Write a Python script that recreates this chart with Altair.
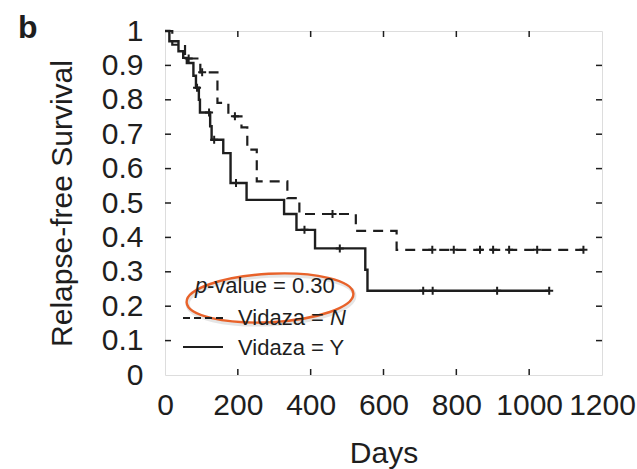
import altair as alt
import pandas as pd

# ---------------- data ----------------
# Vidaza = N (dashed curve): event times (days) and survival after each step
n_times = [0, 20, 55, 97, 144, 174, 210, 226, 252, 336, 369, 524, 636, 1149]
n_surv = [1.0, 0.96, 0.92, 0.88, 0.791, 0.752, 0.72, 0.655, 0.563, 0.514, 0.468, 0.419, 0.364, 0.364]
n_censor = [65, 102, 192, 460, 734, 793, 865, 901, 945, 1022, 1149]

# Vidaza = Y (solid curve)
y_times = [0, 12, 37, 50, 60, 78, 85, 93, 96, 124, 128, 160, 180, 224, 327, 361, 412, 550, 556, 1055]
y_surv = [1.0, 0.970, 0.941, 0.922, 0.907, 0.87, 0.835, 0.80, 0.763, 0.723, 0.684, 0.645, 0.558,
          0.509, 0.468, 0.422, 0.368, 0.306, 0.245, 0.245]
y_censor = [88, 121, 135, 195, 383, 480, 709, 735, 912, 1055]

x_ticks = [0, 200, 400, 600, 800, 1000, 1200]
y_ticks = [0, 0.1, 0.2, 0.3, 0.4, 0.5, 0.6, 0.7, 0.8, 0.9, 1]

p_text = "-value = 0.30"
legend_n = "Vidaza = "
legend_y = "Vidaza = Y"
x_title = "Days"
y_title = "Relapse-free Survival"
panel_letter = "b"

# ---------------- helpers ----------------
def surv_at(times, surv, t):
    s = surv[0]
    for ti, si in zip(times, surv):
        if ti <= t:
            s = si
    return s

curve_n = pd.DataFrame({"t": n_times, "s": n_surv})
curve_y = pd.DataFrame({"t": y_times, "s": y_surv})
cens_n = pd.DataFrame({"t": n_censor, "s": [surv_at(n_times, n_surv, c) for c in n_censor]})
cens_y = pd.DataFrame({"t": y_censor, "s": [surv_at(y_times, y_surv, c) for c in y_censor]})
xt = pd.DataFrame({"v": x_ticks[1:-1]})
yt = pd.DataFrame({"v": y_ticks[1:-1]})

W, H = 437, 344
INK = "#1e1e1e"
FONT = "Liberation Sans"

xscale = alt.Scale(domain=[0, 1200], nice=False, zero=False)
yscale = alt.Scale(domain=[0, 1], nice=False, zero=False)
xaxis = alt.Axis(values=x_ticks, format="d", tickSize=0, domain=False, grid=False, labelFontSize=30,
                 labelPadding=15, titleFontSize=30, titlePadding=18, labelFont=FONT,
                 titleFont=FONT, titleFontWeight="normal", labelColor=INK, titleColor=INK,
                 labelFlush=False, labelOverlap=False, labelBound=False)
yaxis = alt.Axis(values=y_ticks, format="~g", tickSize=0, domain=False, grid=False,
                 labelFontSize=30, labelPadding=22, titleFontSize=30, titlePadding=24,
                 labelFont=FONT, titleFont=FONT, titleFontWeight="normal", labelColor=INK,
                 titleColor=INK, labelFlush=False, labelOverlap=False, labelBound=False)


def X(field):
    return alt.X(field, type="quantitative", scale=xscale, axis=xaxis, title=x_title)


def Y(field):
    return alt.Y(field, type="quantitative", scale=yscale, axis=yaxis, title=y_title)


plus = "M-1,0L1,0M0,-1L0,1"

line_n = alt.Chart(curve_n).mark_line(interpolate="step-after", color=INK, strokeWidth=2.2,
                                      strokeDash=[10, 7]).encode(x=X("t"), y=Y("s"), order="t:Q")
line_y = alt.Chart(curve_y).mark_line(interpolate="step-after", color=INK, strokeWidth=2.4).encode(
    x=X("t"), y=Y("s"), order="t:Q")
pts_n = alt.Chart(cens_n).mark_point(shape=plus, size=64, strokeWidth=2, color=INK, filled=False,
                                     opacity=1).encode(x=X("t"), y=Y("s"))
pts_y = alt.Chart(cens_y).mark_point(shape=plus, size=64, strokeWidth=2, color=INK, filled=False,
                                     opacity=1).encode(x=X("t"), y=Y("s"))

# inward ticks on all four sides
tick_b = alt.Chart(xt).mark_rule(color=INK, strokeWidth=1.5).encode(x=X("v"), y=alt.value(H), y2=alt.value(H - 6))
tick_t = alt.Chart(xt).mark_rule(color=INK, strokeWidth=1.5).encode(x=X("v"), y=alt.value(0), y2=alt.value(6))
tick_l = alt.Chart(yt).mark_rule(color=INK, strokeWidth=1.5).encode(y=Y("v"), x=alt.value(0), x2=alt.value(6))
tick_r = alt.Chart(yt).mark_rule(color=INK, strokeWidth=1.5).encode(y=Y("v"), x=alt.value(W), x2=alt.value(W - 6))

# legend drawn inside the plot
leg_dash = alt.Chart().mark_rule(color=INK, strokeWidth=2, strokeDash=[7, 4]).encode(
    x=alt.value(18), x2=alt.value(58), y=alt.value(287))
leg_solid = alt.Chart().mark_rule(color=INK, strokeWidth=2.2).encode(
    x=alt.value(18), x2=alt.value(58), y=alt.value(316))
txt_style = dict(font=FONT, fontSize=22, color=INK, align="left", baseline="alphabetic")
t_p = alt.Chart().mark_text(text="p", fontStyle="italic", **txt_style).encode(x=alt.value(30), y=alt.value(262))
t_pv = alt.Chart().mark_text(text=p_text, **txt_style).encode(x=alt.value(42), y=alt.value(262))
t_n = alt.Chart().mark_text(text=legend_n, **txt_style).encode(x=alt.value(73), y=alt.value(294))
t_nn = alt.Chart().mark_text(text="N", fontStyle="italic", **txt_style).encode(x=alt.value(165), y=alt.value(294))
t_y = alt.Chart().mark_text(text=legend_y, **txt_style).encode(x=alt.value(73), y=alt.value(324))

ellipse = ("M-1,0C-1,-0.160 -0.552,-0.29 0,-0.29C0.552,-0.29 1,-0.160 1,0"
           "C1,0.160 0.552,0.29 0,0.29C-0.552,0.29 -1,0.160 -1,0Z")
shadow = alt.Chart().mark_point(shape=ellipse, size=27889, filled=False, stroke="#999999",
                                strokeWidth=4, opacity=0.25, angle=357).encode(
    x=alt.value(106), y=alt.value(269))
oval = alt.Chart().mark_point(shape=ellipse, size=27889, filled=False, stroke="#e8622a",
                              strokeWidth=2.4, opacity=1, angle=357).encode(
    x=alt.value(105), y=alt.value(267))

letter = alt.Chart().mark_text(text=panel_letter, font=FONT, fontSize=32, fontWeight="bold",
                               color=INK, align="left", baseline="alphabetic").encode(
    x=alt.value(-147), y=alt.value(7))

chart = alt.layer(
    tick_b, tick_t, tick_l, tick_r,
    line_n, line_y, pts_n, pts_y,
    shadow, oval, leg_dash, leg_solid, t_p, t_pv, t_n, t_nn, t_y, letter,
).properties(
    width=W, height=H, autosize="none",
    padding={"left": 165, "top": 31, "right": 35, "bottom": 94},
).configure_view(stroke=INK, strokeWidth=2).configure(background="white")

chart.save("out.html", embed_options={"renderer": "svg", "actions": False})
